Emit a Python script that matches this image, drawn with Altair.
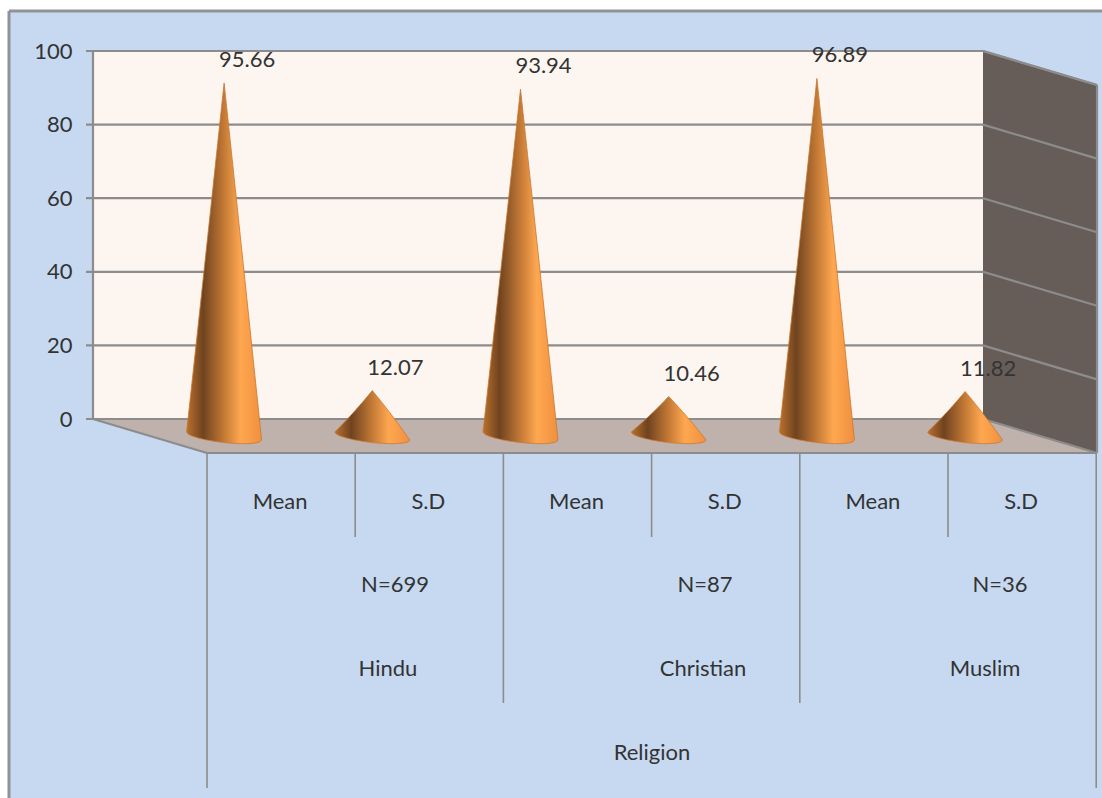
import altair as alt
import pandas as pd

# Values of the chart
groups = ["Hindu", "Christian", "Muslim"]
sample_sizes = ["N=699", "N=87", "N=36"]
measures = ["Mean", "S.D", "Mean", "S.D", "Mean", "S.D"]
scores = [95.66, 12.07, 93.94, 10.46, 96.89, 11.82]
score_labels = ["95.66", "12.07", "93.94", "10.46", "96.89", "11.82"]
y_ticks = [0, 20, 40, 60, 80, 100]
outer_label = "Religion"

# Canvas geometry in pixels
W, H = 1102, 798
WALL_LEFT, WALL_RIGHT, WALL_TOP, WALL_BASE = 93, 983, 51, 419
SKEW_X, SKEW_Y = 114, 34
PX_PER_UNIT = (WALL_BASE - WALL_TOP) / 100
CONE_BASE = 435
CAT_LEFT, CAT_STEP = 207, 148.2
CONE_SHIFT = 57 / CAT_STEP
CONE_HALF = 37.5 / CAT_STEP
LABEL_SHIFT = 23 / CAT_STEP

FONT = "Lato"
FONT_SIZE = 22
TEXT = "#333333"
GRID = "#8c8c8c"


# The wall plane and the plane of the cones differ only in where zero lies
def y_scale(zero_px):
    return alt.Scale(domain=[zero_px / PX_PER_UNIT, (zero_px - H) / PX_PER_UNIT], range=[0, H], nice=False, zero=False)


x_pixels = alt.Scale(domain=[0, W], range=[0, W], nice=False, zero=False)
y_pixels = alt.Scale(domain=[0, H], range=[0, H], nice=False, zero=False)
x_cats = alt.Scale(domain=[-CAT_LEFT / CAT_STEP, (W - CAT_LEFT) / CAT_STEP], range=[0, W], nice=False, zero=False)


def polygon(points, fill):
    # Filled shape in pixel coordinates, as a closed line with an ordered path
    df = pd.DataFrame([{"px": a, "py": b, "o": i} for i, (a, b) in enumerate(points)])
    return alt.Chart(df).mark_line(filled=True, fill=fill, stroke=None, interpolate="linear-closed").encode(
        x=alt.X("px:Q", scale=x_pixels, axis=None),
        y=alt.Y("py:Q", scale=y_pixels, axis=None),
        order="o:Q",
    )


def segments(rows, color, width):
    df = pd.DataFrame(rows, columns=["a", "b", "a2", "b2"])
    return alt.Chart(df).mark_rule(color=color, strokeWidth=width).encode(
        x=alt.X("a:Q", scale=x_pixels, axis=None),
        x2="a2:Q",
        y=alt.Y("b:Q", scale=y_pixels, axis=None),
        y2="b2:Q",
    )


def labels(rows):
    df = pd.DataFrame(rows, columns=["a", "b", "t"])
    return alt.Chart(df).mark_text(font=FONT, fontSize=FONT_SIZE, color=TEXT, baseline="middle", align="center").encode(
        x=alt.X("a:Q", scale=x_pixels, axis=None),
        y=alt.Y("b:Q", scale=y_pixels, axis=None),
        text="t:N",
    )


# Cone outlines: the top follows the score, the underside is the curved base
cone_rows = []
for i, v in enumerate(scores):
    for k in range(-30, 31):
        t = k / 30
        chord = -(1 + 4 * t) / PX_PER_UNIT
        rim = 6.5 * (1 - t * t) ** 0.5 / PX_PER_UNIT
        cone_rows.append({
            "cone": i,
            "u": i + 0.5 - CONE_SHIFT + t * CONE_HALF,
            "top": chord + (1 - abs(t)) * (v - chord),
            "bottom": chord - rim,
        })
cones = alt.Chart(pd.DataFrame(cone_rows)).mark_area(
    stroke="#c9772e",
    strokeWidth=0.8,
    fill=alt.Gradient(
        gradient="linear", x1=0, x2=1, y1=0, y2=0,
        stops=[
            alt.GradientStop(offset=0, color="#b9702c"),
            alt.GradientStop(offset=0.22, color="#6f4320"),
            alt.GradientStop(offset=0.5, color="#c47a35"),
            alt.GradientStop(offset=0.72, color="#ffa750"),
            alt.GradientStop(offset=1, color="#ef9040"),
        ],
    ),
).encode(
    x=alt.X("u:Q", scale=x_cats, axis=None),
    y=alt.Y("top:Q", scale=y_scale(CONE_BASE), axis=None),
    y2="bottom:Q",
    detail="cone:N",
)

# Score labels, up and to the right of each cone tip
score_df = pd.DataFrame({
    "u": [i + 0.5 - CONE_SHIFT + LABEL_SHIFT for i in range(6)],
    "v": scores,
    "t": score_labels,
})
score_text = alt.Chart(score_df).mark_text(
    font=FONT, fontSize=FONT_SIZE, color=TEXT, baseline="middle", align="center", dy=-23
).encode(
    x=alt.X("u:Q", scale=x_cats, axis=None),
    y=alt.Y("v:Q", scale=y_scale(CONE_BASE), axis=None),
    text="t:N",
)

# Value axis and gridlines on the back wall
grid_df = pd.DataFrame({"v": y_ticks})
y_axis = alt.Chart(grid_df).mark_rule(color=GRID, strokeWidth=2.2).encode(
    x=alt.value(86),
    x2=alt.value(WALL_RIGHT),
    y=alt.Y(
        "v:Q",
        scale=y_scale(WALL_BASE),
        axis=alt.Axis(
            values=y_ticks, orient="left", offset=-72, domain=False, ticks=False, grid=False, title=None,
            labelFont=FONT, labelFontSize=FONT_SIZE, labelColor=TEXT, labelPadding=0, zindex=1,
        ),
    ),
)
side_grid = [(WALL_RIGHT, WALL_BASE - v * PX_PER_UNIT, WALL_RIGHT + SKEW_X, WALL_BASE + SKEW_Y - v * PX_PER_UNIT) for v in y_ticks[1:]]

back_wall = polygon([(WALL_LEFT, WALL_TOP), (WALL_RIGHT, WALL_TOP), (WALL_RIGHT, WALL_BASE), (WALL_LEFT, WALL_BASE)], "#fdf5ef")
floor = polygon([(WALL_LEFT, WALL_BASE), (WALL_RIGHT, WALL_BASE), (WALL_RIGHT + SKEW_X, WALL_BASE + SKEW_Y), (WALL_LEFT + SKEW_X, WALL_BASE + SKEW_Y)], "#bfb1ab")
side_wall = polygon([(WALL_RIGHT, WALL_TOP), (WALL_RIGHT + SKEW_X, WALL_TOP + SKEW_Y), (WALL_RIGHT + SKEW_X, WALL_BASE + SKEW_Y), (WALL_RIGHT, WALL_BASE)], "#675d58")
panel = polygon([(9, 11), (W, 11), (W, H), (9, H)], "#c6d9f1")

frame = segments([(9, 11, W, 11), (9, 11, 9, H)], "#8f9296", 3)
wall_edges = segments(
    [
        (WALL_LEFT, WALL_TOP, WALL_LEFT, WALL_BASE),
        (WALL_LEFT, WALL_BASE, WALL_LEFT + SKEW_X, WALL_BASE + SKEW_Y),
        (WALL_LEFT + SKEW_X, WALL_BASE + SKEW_Y, WALL_RIGHT + SKEW_X, WALL_BASE + SKEW_Y),
        (WALL_RIGHT, WALL_TOP, WALL_RIGHT + SKEW_X, WALL_TOP + SKEW_Y),
        (WALL_RIGHT + SKEW_X, WALL_TOP + SKEW_Y, WALL_RIGHT + SKEW_X, WALL_BASE + SKEW_Y),
        (WALL_RIGHT, WALL_BASE, WALL_RIGHT + SKEW_X, WALL_BASE + SKEW_Y),
    ] + side_grid,
    GRID, 2.2,
)

# Three-level category axis under the floor
tier_bottoms = [788, 537, 703, 537, 703, 537, 788]
dividers = segments(
    [(CAT_LEFT + CAT_STEP * i, WALL_BASE + SKEW_Y, CAT_LEFT + CAT_STEP * i, tier_bottoms[i]) for i in range(7)],
    GRID, 1.6,
)
measure_labels = labels([(CAT_LEFT + CAT_STEP * (i + 0.5) - 1, 502, m) for i, m in enumerate(measures)])
n_labels = labels(list(zip([395, 705, 1000], [585] * 3, sample_sizes)))
group_labels = labels(list(zip([388, 703, 985], [669] * 3, groups)))
outer = labels([(652, 753, outer_label)])

chart = alt.layer(
    panel, frame, back_wall, floor, side_wall, y_axis, wall_edges, dividers,
    cones, score_text, measure_labels, n_labels, group_labels, outer,
).resolve_scale(x="independent", y="independent").properties(
    width=W, height=H, padding=0, background="white",
    autosize=alt.AutoSizeParams(type="none"),
).configure_view(stroke=None)

chart.save("out.html", embed_options={"renderer": "svg", "actions": False})
